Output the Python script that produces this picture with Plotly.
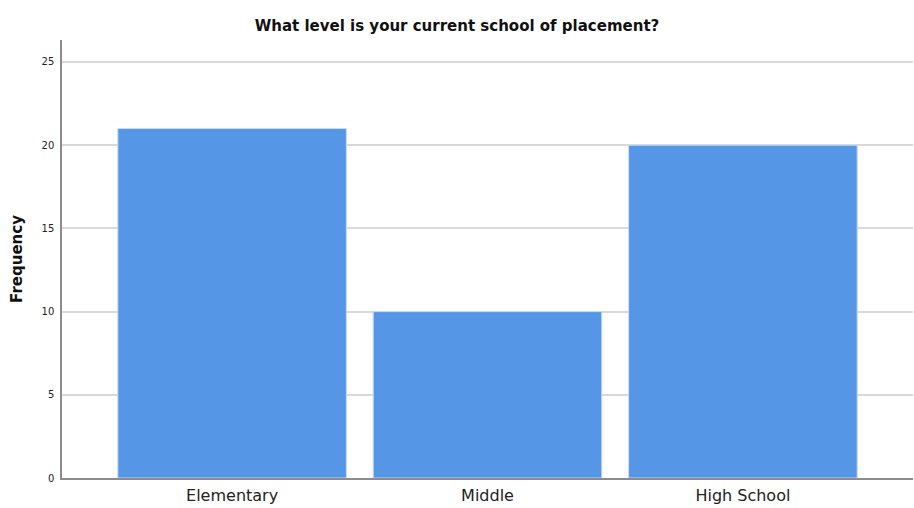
import plotly.graph_objects as go

categories = ["Elementary", "Middle", "High School"]
frequencies = [21, 10, 20]
y_ticks = [0, 5, 10, 15, 20, 25]

fig = go.Figure()
fig.add_trace(go.Bar(
    x=categories,
    y=frequencies,
    marker=dict(color="#5596e6", line=dict(color="#c8dcf4", width=1)),
    width=0.895,
))

fig.update_layout(
    width=914, height=508,
    margin=dict(l=62, r=1, t=40, b=30),
    paper_bgcolor="white", plot_bgcolor="white",
    font=dict(family="DejaVu Sans", color="#222"),
    title=dict(text="<b>What level is your current school of placement?</b>",
               x=0.5, xanchor="center", y=1 - 26/508, yanchor="middle",
               font=dict(size=15, color="#111")),
    showlegend=False,
    bargap=0.105,
)
fig.update_xaxes(
    range=[-0.666, 2.666],
    showline=True, linecolor="#8c8c8c", linewidth=1.5,
    showgrid=False, ticks="",
    tickfont=dict(size=16, color="#222"),
    ticklabelstandoff=2,
)
fig.update_yaxes(
    range=[0, 26.32],
    tickvals=y_ticks,
    showline=True, linecolor="#8c8c8c", linewidth=1.5,
    showgrid=True, gridcolor="#d9d9d9", gridwidth=1.5,
    zeroline=False, ticks="",
    tickfont=dict(size=10, color="#222"),
    ticklabelstandoff=4,
    title=dict(text="<b>Frequency</b>", font=dict(size=15, color="#111"), standoff=15),
)

fig.write_html("out.html", config={"displayModeBar": False},
               post_script="document.body.style.margin='0';document.body.style.overflow='hidden';")
